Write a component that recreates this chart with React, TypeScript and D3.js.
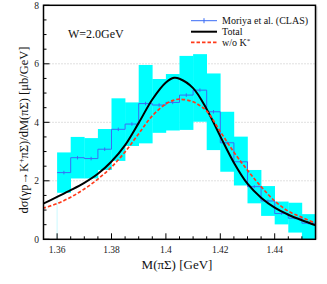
import React from "react";
import * as d3 from "d3";

const W = 327, H = 284;
const binLo = [1.36, 1.365, 1.37, 1.375, 1.38, 1.385, 1.39, 1.395, 1.4, 1.405, 1.41, 1.415, 1.42, 1.425, 1.43, 1.435, 1.44, 1.445, 1.45];
const binWidth = 0.005;
const clasValue = [2.28, 2.79, 2.76, 3.08, 3.76, 3.94, 4.64, 4.59, 4.68, 4.93, 5.10, 4.36, 3.30, 2.65, 1.80, 1.31, 0.88, 0.72, 0.55];
const statErr = [0.06, 0.06, 0.06, 0.06, 0.06, 0.06, 0.06, 0.06, 0.06, 0.06, 0.06, 0.06, 0.05, 0.05, 0.05, 0.05, 0.04, 0.04, 0.04];
const bandHigh = [2.97, 3.50, 3.46, 3.77, 4.82, 4.68, 5.96, 5.48, 5.65, 6.27, 6.33, 5.67, 4.36, 3.51, 2.37, 1.82, 1.29, 1.25, 0.86];
const bandLow = [1.59, 2.08, 2.08, 2.37, 2.68, 3.19, 3.28, 3.64, 3.72, 3.74, 4.02, 3.05, 2.31, 1.84, 1.23, 0.80, 0.51, 0.23, 0.0];

const curveX = [1.3547, 1.36, 1.365, 1.37, 1.375, 1.38, 1.385, 1.39, 1.395, 1.4, 1.403, 1.405, 1.41, 1.415, 1.42, 1.425, 1.43, 1.435, 1.44, 1.445, 1.45, 1.455];
const totalY = [1.21, 1.45, 1.68, 1.93, 2.24, 2.66, 3.22, 3.98, 4.78, 5.36, 5.52, 5.49, 5.17, 4.45, 3.52, 2.62, 1.90, 1.42, 1.08, 0.84, 0.65, 0.48];
const noKstarY = [1.06, 1.22, 1.44, 1.72, 2.06, 2.47, 2.99, 3.61, 4.22, 4.63, 4.76, 4.79, 4.70, 4.38, 3.68, 2.98, 2.36, 1.80, 1.31, 0.96, 0.75, 0.55];

const xMajor = [1.36, 1.38, 1.4, 1.42, 1.44];
const xMajorLabels = ["1.36", "1.38", "1.4", "1.42", "1.44"];
const yMajor = [0, 2, 4, 6, 8];
const yGrid = [2, 4, 6];

const legendLabels = ["Moriya et al. (CLAS)", "Total", "w/o K"];

export default function App() {
  const x = d3.scaleLinear().domain([1.355, 1.455]).range([43.5, 315.5]);
  const y = d3.scaleLinear().domain([0, 8]).range([239.3, 5.3]);
  const left = 43.5, right = 315.5, top = 5.3, bottom = 239.3;

  const xMinor = d3.range(1.355, 1.4551, 0.005).map((v) => +v.toFixed(3));
  const yMinor = d3.range(0, 8.01, 0.5);

  const stepPts: [number, number][] = [];
  binLo.forEach((lo, i) => {
    stepPts.push([lo, clasValue[i]]);
    stepPts.push([lo + binWidth, clasValue[i]]);
  });
  const stepLine = d3.line<[number, number]>().x((d) => x(d[0])).y((d) => y(d[1]));

  const curve = (ys: number[]) =>
    d3.line<number>().x((_, i) => x(curveX[i])).y((d) => y(d)).curve(d3.curveCatmullRom.alpha(0.5))(ys) || "";

  const font = "'Liberation Serif', 'Times New Roman', Times, serif";

  return (
    <svg width={W} height={H} style={{ position: "absolute", left: 0, top: 0, background: "#fff", fontFamily: font }}>
      <defs>
        <clipPath id="plot">
          <rect x={left} y={top} width={right - left} height={bottom - top} />
        </clipPath>
      </defs>
      {yGrid.map((g) => (
        <line key={g} x1={left} x2={right} y1={y(g)} y2={y(g)} stroke="#b0b0b0" strokeWidth={0.8} strokeDasharray="1,2" />
      ))}
      <g clipPath="url(#plot)">
        {binLo.map((lo, i) => (
          <rect key={i} x={x(lo)} y={y(bandHigh[i])} width={x(lo + binWidth) - x(lo) + 0.3} height={y(bandLow[i]) - y(bandHigh[i])} fill="#00ffff" />
        ))}
        <line x1={x(binLo[0])} x2={x(binLo[0])} y1={y(bandLow[0])} y2={bottom} stroke="#bff7ff" strokeWidth={0.8} />
        <path d={stepLine(stepPts) || ""} fill="none" stroke="#3a6cf5" strokeWidth={1} />
        {binLo.map((lo, i) => (
          <line key={i} x1={x(lo + binWidth / 2)} x2={x(lo + binWidth / 2)} y1={y(clasValue[i] - statErr[i])} y2={y(clasValue[i] + statErr[i])} stroke="#3a6cf5" strokeWidth={1} />
        ))}
        <path d={curve(totalY)} fill="none" stroke="#000" strokeWidth={2} />
        <path d={curve(noKstarY)} fill="none" stroke="#ff3a1a" strokeWidth={1.7} strokeDasharray="3.5,2" />
      </g>
      {xMinor.map((v) => {
        const major = xMajor.some((m) => Math.abs(m - v) < 1e-6);
        return <line key={"xm" + v} x1={x(v)} x2={x(v)} y1={bottom} y2={bottom - (major ? 6 : 3)} stroke="#000" strokeWidth={1} />;
      })}
      {yMinor.map((v) => {
        const major = yMajor.includes(v);
        return <line key={"ym" + v} x1={left} x2={left + (major ? 6 : 3)} y1={y(v)} y2={y(v)} stroke="#000" strokeWidth={1} />;
      })}
      <rect x={left} y={top} width={right - left} height={bottom - top} fill="none" stroke="#000" strokeWidth={1.5} />
      <line x1={right + 1.2} x2={right + 1.2} y1={top + 1} y2={bottom} stroke="#999" strokeWidth={1} />
      {xMajor.map((v, i) => (
        <text key={v} x={x(v)} y={253} fontSize={9.5} textAnchor="middle" fill="#222">{xMajorLabels[i]}</text>
      ))}
      {yMajor.map((v) => (
        <text key={v} x={39} y={y(v) + 3.2} fontSize={9.5} textAnchor="end" fill="#222">{v}</text>
      ))}
      <text x={177} y={269} fontSize={13} textAnchor="middle" fill="#111">M(πΣ) [GeV]</text>
      <text transform={`translate(28,${130}) rotate(-90)`} fontSize={12.5} textAnchor="middle" fill="#111">
        dσ(γp→K<tspan dy={-4} fontSize={8}>+</tspan><tspan dy={4}>πΣ)/dM(πΣ) [μb/GeV]</tspan>
      </text>
      <text x={68} y={38.3} fontSize={12} fill="#111">W=2.0GeV</text>
      <line x1={191} x2={217} y1={20.7} y2={20.7} stroke="#3a6cf5" strokeWidth={1} />
      <line x1={204} x2={204} y1={18.2} y2={23.2} stroke="#3a6cf5" strokeWidth={1} />
      <text x={222} y={24.2} fontSize={10} fill="#111">{legendLabels[0]}</text>
      <line x1={191} x2={217} y1={31.7} y2={31.7} stroke="#000" strokeWidth={2} />
      <text x={222} y={35.2} fontSize={10} fill="#111">{legendLabels[1]}</text>
      <line x1={191} x2={217} y1={42.3} y2={42.3} stroke="#ff3a1a" strokeWidth={1.7} strokeDasharray="3.5,2" />
      <text x={222} y={45.8} fontSize={10} fill="#111">{legendLabels[2]}<tspan dy={-3} fontSize={7}>*</tspan></text>
    </svg>
  );
}
